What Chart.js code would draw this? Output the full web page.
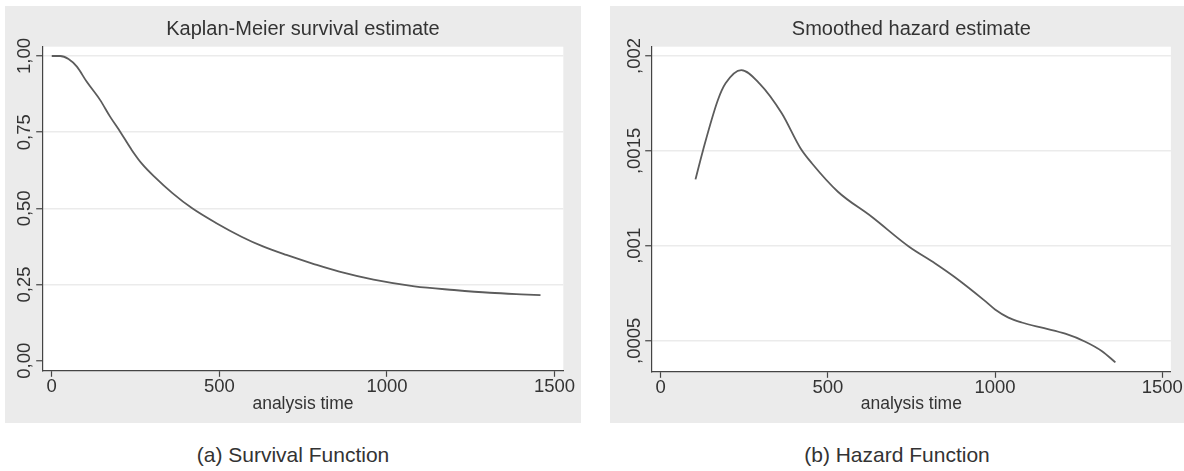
<!DOCTYPE html>
<html><head><meta charset="utf-8">
<script src="https://cdn.jsdelivr.net/npm/chart.js@4.4.1/dist/chart.umd.min.js"></script>
<style>
html,body{margin:0;padding:0;background:#fff;width:1184px;height:471px;overflow:hidden;}
.panel{position:absolute;top:6px;height:417px;background:#ebebeb;}
.panel canvas{display:block;}
.cap{position:absolute;top:440px;height:30px;line-height:30px;text-align:center;font-family:"Liberation Sans",Arial,sans-serif;font-size:21px;color:#333;}
</style></head><body>
<div class="panel" style="left:5px;width:576px"><canvas id="km" width="576" height="417"></canvas></div>
<div class="panel" style="left:610px;width:574px"><canvas id="hz" width="574" height="417"></canvas></div>
<div class="cap" style="left:5px;width:576px">(a) Survival Function</div>
<div class="cap" style="left:610px;width:574px">(b) Hazard Function</div>
<script>
// ---- data ----
const kmTime = [0, 25, 50, 75, 104, 144, 174, 205, 239, 270, 306, 360, 419, 490, 566, 630, 700, 780, 858, 960, 1082, 1200, 1307, 1400, 1458];
const kmSurv = [1.0, 1.0, 0.99, 0.965, 0.916, 0.856, 0.801, 0.75, 0.691, 0.645, 0.604, 0.55, 0.50, 0.452, 0.407, 0.375, 0.347, 0.318, 0.292, 0.266, 0.244, 0.232, 0.223, 0.218, 0.2155];
const hzTime = [104, 126, 171, 194, 241, 295, 362, 418, 452, 530, 631, 743, 821, 878, 967, 1000, 1040, 1080, 1147, 1210, 1270, 1320, 1360];
const hzRate = [0.00135, 0.0015, 0.001768, 0.001856, 0.001926, 0.001856, 0.001698, 0.001514, 0.001435, 0.001285, 0.001153, 0.000995, 0.000907, 0.000837, 0.000714, 0.000665, 0.000622, 0.000596, 0.000566, 0.000537, 0.000495, 0.000445, 0.000386];
const xTickValues = [0, 500, 1000, 1500];
const xTickLabels = ['0', '500', '1000', '1500'];
const kmTickValues = [0, 0.25, 0.5, 0.75, 1];
const kmTickLabels = ['0,00', '0,25', '0,50', '0,75', '1,00'];
const hzTickValues = [0.0005, 0.001, 0.0015, 0.002];
const hzTickLabels = [',0005', ',001', ',0015', ',002'];
const kmTitle = 'Kaplan-Meier survival estimate';
const hzTitle = 'Smoothed hazard estimate';
const xTitle = 'analysis time';

const FONT = '"Liberation Sans",Arial,sans-serif';
const TICK_SIZE = 18.5;
function widest(txts, size) {
  const c = document.createElement('canvas').getContext('2d');
  c.font = size + 'px ' + FONT;
  return Math.max(...txts.map(t => c.measureText(t).width));
}
const bgPlugin = { id: 'bg', beforeDraw(c) {
  const { ctx, chartArea: a } = c;
  ctx.save(); ctx.fillStyle = '#ffffff';
  ctx.fillRect(a.left, a.top, a.right - a.left, a.bottom - a.top); ctx.restore();
}};

function makeChart(id, o) {
  const tl = 6.5;
  const w = widest(o.yLabels, TICK_SIZE);
  const yPad = o.chartLeft - tl - w / 2 - o.labelCenter;
  const padLeft = 1;
  return new Chart(document.getElementById(id), {
    type: 'line',
    data: { datasets: [{ data: o.xs.map((x, i) => ({ x: x, y: o.ys[i] })),
      borderColor: '#5c5c5c', borderWidth: 1.8, pointRadius: 0, fill: false,
      cubicInterpolationMode: 'monotone' }] },
    options: {
      responsive: false, animation: false, devicePixelRatio: 1,
      layout: { padding: { left: padLeft, right: o.padRight, top: 0, bottom: 0 } },
      plugins: {
        legend: { display: false }, tooltip: { enabled: false },
        title: { display: true, fullSize: false, text: o.title, color: '#333',
          font: { family: FONT, size: 20, weight: 'normal', lineHeight: 1.2 },
          padding: { top: 11, bottom: 5.7 } }
      },
      scales: {
        x: { type: 'linear', min: -27, max: 1526,
          afterBuildTicks: s => { s.ticks = xTickValues.map(v => ({ value: v })); },
          afterFit: s => { s.height = o.xHeight; },
          ticks: { autoSkip: false, maxRotation: 0, padding: 1, color: '#333',
            font: { family: FONT, size: TICK_SIZE, lineHeight: 1 },
            callback: v => xTickLabels[xTickValues.indexOf(v)] },
          grid: { drawOnChartArea: false, drawTicks: true, tickLength: tl, tickColor: '#444', tickWidth: 1.2 },
          border: { color: '#444', width: 1.2 },
          title: { display: true, text: xTitle, color: '#333',
            font: { family: FONT, size: 17.5, lineHeight: 1.2 }, padding: { top: 0, bottom: 8.5 } }
        },
        y: { type: 'linear', min: o.yMin, max: o.yMax,
          afterBuildTicks: s => { s.ticks = o.yTicks.map(v => ({ value: v })); },
          afterFit: s => { s.width = o.chartLeft - padLeft; },
          ticks: { autoSkip: false, minRotation: 90, maxRotation: 90, crossAlign: 'center',
            padding: yPad, color: '#333', font: { family: FONT, size: TICK_SIZE, lineHeight: 1 },
            callback: v => o.yLabels[o.yTicks.indexOf(v)] },
          grid: { color: c => (c.tick && c.tick.value === o.noGrid) ? 'rgba(0,0,0,0)' : '#ebebeb',
            lineWidth: 1.5, drawTicks: true, tickLength: tl, tickColor: '#444', tickWidth: 1.2 },
          border: { color: '#444', width: 1.2 }
        }
      }
    },
    plugins: [bgPlugin]
  });
}

makeChart('km', { xs: kmTime, ys: kmSurv, title: kmTitle, yTicks: kmTickValues, yLabels: kmTickLabels,
  yMin: -0.0315, yMax: 1.0305, noGrid: 0, chartLeft: 37.7, padRight: 17.7,
  xHeight: 52.7, labelCenter: 20 });
makeChart('hz', { xs: hzTime, ys: hzRate, title: hzTitle, yTicks: hzTickValues, yLabels: hzTickLabels,
  yMin: 0.000339, yMax: 0.002049, noGrid: null, chartLeft: 41.7, padRight: 10.7,
  xHeight: 51.7, labelCenter: 24.5 });
</script>
</body></html>
